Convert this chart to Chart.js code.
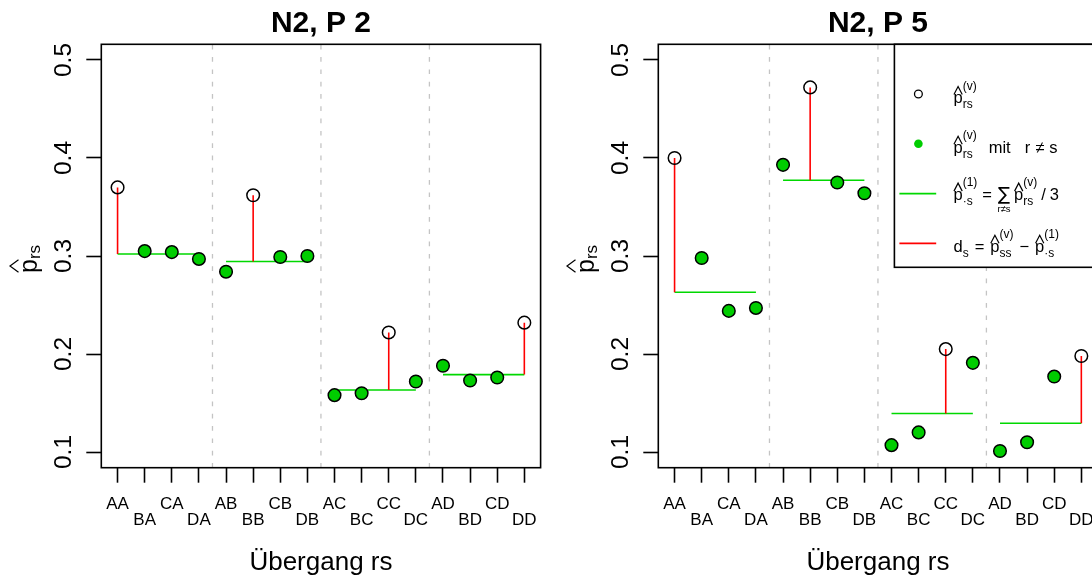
<!DOCTYPE html>
<html lang="de">
<head>
<meta charset="UTF-8">
<title>N2 Übergänge</title>
<script src="https://cdn.jsdelivr.net/npm/chart.js"></script>
<style>
  html, body { margin:0; padding:0; background:#fff; }
  body { width:1092px; height:583px; overflow:hidden; position:relative; }
  canvas { position:absolute; top:0; }
  #c1 { left:0; }
  #c2 { left:557px; }
</style>
</head>
<body>
<canvas id="c1" width="557" height="583"></canvas>
<canvas id="c2" width="557" height="583"></canvas>
<script>
// transitions r -> s, grouped by target state s
const labels = ['AA','BA','CA','DA','AB','BB','CB','DB','AC','BC','CC','DC','AD','BD','CD','DD'];
const states = ['A','B','C','D'];
// estimated transition probabilities, panel "N2, P 2"
const p2 = [0.370,0.305,0.304,0.297, 0.284,0.362,0.299,0.300, 0.158,0.160,0.222,0.172, 0.188,0.173,0.176,0.232];
// panel "N2, P 5"
const p5 = [0.400,0.298,0.244,0.247, 0.393,0.472,0.375,0.364, 0.107,0.120,0.205,0.191, 0.101,0.110,0.177,0.198];
const yTicks = [0.1, 0.2, 0.3, 0.4, 0.5];
const yLim = [0.1, 0.5];

// R style axis extension (4%)
const yPad = (yLim[1] - yLim[0]) * 0.04;
const xPad = (labels.length - 1) * 0.04;

const FONT = '"Liberation Sans", Arial, Helvetica, sans-serif';
const GREEN_PT = '#00CD00';
const GREEN_LN = '#00D800';

function build(values) {
  const diag = [], off = [], means = [], dev = [], sep = [];
  states.forEach((s, g) => {
    const idx = labels.map((l, i) => i).filter(i => labels[i][1] === s);
    const d = idx.find(i => labels[i][0] === s);
    const others = idx.filter(i => i !== d);
    const m = others.reduce((a, i) => a + values[i], 0) / others.length;
    idx.forEach(i => (i === d ? diag : off).push({ x: i, y: values[i] }));
    means.push({ x: idx[0], y: m }, { x: idx[idx.length - 1], y: m }, { x: idx[0], y: null });
    dev.push({ x: d, y: m }, { x: d, y: values[d] }, { x: d, y: null });
    if (g > 0) {
      sep.push({ x: idx[0] - 0.5, y: yLim[0] - yPad }, { x: idx[0] - 0.5, y: yLim[1] + yPad },
               { x: idx[0] - 0.5, y: null });
    }
  });
  return [
    { type: 'scatter', data: diag, order: 0, pointRadius: 6.3, pointBorderWidth: 1.5,
      pointBorderColor: '#000', pointBackgroundColor: 'rgba(0,0,0,0)' },
    { type: 'scatter', data: off, order: 1, pointRadius: 6.3, pointBorderWidth: 1.5,
      pointBorderColor: '#000', pointBackgroundColor: GREEN_PT },
    { type: 'line', data: dev, order: 2, borderColor: '#FF0000', borderWidth: 1.6,
      pointRadius: 0, tension: 0, spanGaps: false },
    { type: 'line', data: means, order: 3, borderColor: GREEN_LN, borderWidth: 1.6,
      pointRadius: 0, tension: 0, spanGaps: false },
    { type: 'line', data: sep, order: 4, borderColor: '#C4C4C4', borderWidth: 1.3,
      borderDash: [4.7, 7.6], pointRadius: 0, tension: 0, spanGaps: false }
  ];
}

function hat(ctx, x, w, base, lo, hi) {
  ctx.save();
  ctx.lineWidth = 1.2;
  ctx.strokeStyle = '#000';
  ctx.beginPath();
  ctx.moveTo(x + w * 0.05, base - lo);
  ctx.lineTo(x + w / 2, base - hi);
  ctx.lineTo(x + w * 0.95, base - lo);
  ctx.stroke();
  ctx.restore();
}

// tiny plotmath-like text runner
function drawMath(ctx, x, base, parts) {
  ctx.textAlign = 'left';
  ctx.textBaseline = 'alphabetic';
  let lastX = x, lastW = 0;
  for (const p of parts) {
    x += p.gap || 0;
    ctx.font = p.size + 'px ' + (p.font || FONT);
    if (p.t !== undefined) {
      const w = ctx.measureText(p.t).width;
      ctx.fillText(p.t, x, base + (p.dy || 0));
      if (p.hat) hat(ctx, x, w, base, p.hat[0], p.hat[1]);
      lastX = x; lastW = w;
      x += w;
    } else if (p.under !== undefined) {
      const w = ctx.measureText(p.under).width;
      ctx.fillText(p.under, lastX + lastW / 2 - w / 2, base + p.dy);
    } else {
      let w = 0;
      if (p.sub) { ctx.fillText(p.sub, x, base + p.subDy); w = Math.max(w, ctx.measureText(p.sub).width); }
      if (p.sup) { ctx.fillText(p.sup, x, base - p.supDy); w = Math.max(w, ctx.measureText(p.sup).width); }
      x += w;
    }
  }
  return x;
}

const P = (gap) => ({ t: 'p', size: 16.5, gap: gap || 0, hat: [8.5, 16.5] });
const S = (sub, sup) => ({ size: 12, sub, sup, subDy: 5, supDy: 13.5 });

const legendRows = [
  { kind: 'open',  parts: [P(), S('rs', '(v)')], dy: 9 },
  { kind: 'dot',   parts: [P(), S('rs', '(v)'), { t: 'mit', size: 16.5, gap: 12 }, { t: 'r', size: 16.5, gap: 14 },
                           { t: '≠', size: 16.5, gap: 5 }, { t: 's', size: 16.5, gap: 5 }], dy: 9 },
  { kind: 'green', parts: [P(), S('·s', '(1)'), { t: '=', size: 16.5, gap: 5 },
                           { t: '∑', size: 18, gap: 6, font: '"DejaVu Sans", sans-serif' },
                           { under: 'r≠s', size: 9.5, dy: 12.5 }, P(4), S('rs', '(v)'),
                           { t: '/', size: 16.5, gap: 4 }, { t: '3', size: 16.5, gap: 4 }], dy: 6 },
  { kind: 'red',   parts: [{ t: 'd', size: 16.5 }, { size: 12, sub: 's', subDy: 5 }, { t: '=', size: 16.5, gap: 6 },
                           P(6), S('ss', '(v)'), { t: '−', size: 16.5, gap: 6 }, P(6), S('·s', '(1)')], dy: 8.4 }
];

const decor = {
  id: 'decor',
  afterDraw(chart, args, opts) {
    const ctx = chart.ctx;
    const a = chart.chartArea;
    const xs = chart.scales.x, ys = chart.scales.y;
    const cx = (a.left + a.right) / 2;
    ctx.save();
    ctx.fillStyle = '#000';
    ctx.strokeStyle = '#000';

    // frame
    ctx.lineWidth = 1.6;
    ctx.strokeRect(a.left, a.top, a.right - a.left, a.bottom - a.top);

    // title
    ctx.font = 'bold 30px ' + FONT;
    ctx.textAlign = 'center';
    ctx.textBaseline = 'alphabetic';
    ctx.fillText(opts.title, cx, 31.7);

    // x tick labels, staggered in two rows
    ctx.font = '17px ' + FONT;
    labels.forEach((l, i) => {
      ctx.fillText(l, xs.getPixelForValue(i), i % 2 === 0 ? 509.3 : 525);
    });

    // x axis title
    ctx.font = '26px ' + FONT;
    ctx.fillText('Übergang rs', cx, 570);

    // y tick labels (rotated like R's las = 0)
    ctx.font = '24.5px ' + FONT;
    yTicks.forEach(v => {
      ctx.save();
      ctx.translate(71.3, ys.getPixelForValue(v));
      ctx.rotate(-Math.PI / 2);
      ctx.textAlign = 'center';
      ctx.fillText(v.toFixed(1), 0, 0);
      ctx.restore();
    });

    // y axis title: p-hat with subscript rs
    ctx.save();
    ctx.translate(37, (a.top + a.bottom) / 2 + 3);
    ctx.rotate(-Math.PI / 2);
    drawMath(ctx, -14, 0, [{ t: 'p', size: 25, hat: [18.5, 27] }, { size: 17, sub: 'rs', subDy: 3 }]);
    ctx.restore();

    // legend in the top right corner
    if (opts.legend) {
      const L = a.right - 203.2, T = a.top, H = 223;
      ctx.fillStyle = '#fff';
      ctx.fillRect(L, T, a.right - L, H);
      ctx.lineWidth = 1.6;
      ctx.strokeRect(L, T, a.right - L, H);
      ctx.fillStyle = '#000';
      legendRows.forEach((row, k) => {
        const y0 = T + 49.7 + k * 49.8;
        if (row.kind === 'open') {
          ctx.lineWidth = 1.3;
          ctx.beginPath(); ctx.arc(L + 24, y0, 3.9, 0, Math.PI * 2); ctx.stroke();
        } else if (row.kind === 'dot') {
          ctx.fillStyle = GREEN_PT;
          ctx.beginPath(); ctx.arc(L + 24, y0, 4.3, 0, Math.PI * 2); ctx.fill();
          ctx.fillStyle = '#000';
        } else {
          ctx.strokeStyle = row.kind === 'green' ? GREEN_LN : '#FF0000';
          ctx.lineWidth = 1.6;
          ctx.beginPath(); ctx.moveTo(L + 5, y0); ctx.lineTo(L + 41.8, y0); ctx.stroke();
          ctx.strokeStyle = '#000';
        }
        drawMath(ctx, L + 59.1, y0 + row.dy, row.parts);
      });
    }
    ctx.restore();
  }
};

function makeChart(id, values, title, legend) {
  return new Chart(document.getElementById(id), {
    type: 'scatter',
    data: { datasets: build(values) },
    options: {
      responsive: false,
      maintainAspectRatio: false,
      devicePixelRatio: 1,
      animation: false,
      events: [],
      layout: { padding: { top: 44.3, right: 16.4, bottom: 0, left: 0 } },
      scales: {
        x: {
          type: 'linear',
          min: -xPad,
          max: labels.length - 1 + xPad,
          afterBuildTicks: s => { s.ticks = labels.map((l, i) => ({ value: i })); },
          afterFit: s => { s.height = 583 - 467.7; },
          ticks: { display: false },
          border: { display: false },
          grid: { drawOnChartArea: false, drawTicks: true, tickLength: 15, tickWidth: 1.6, tickColor: '#000' }
        },
        y: {
          type: 'linear',
          min: yLim[0] - yPad,
          max: yLim[1] + yPad,
          afterBuildTicks: s => { s.ticks = yTicks.map(v => ({ value: v })); },
          afterFit: s => { s.width = 101.3; },
          ticks: { display: false },
          border: { display: false },
          grid: { drawOnChartArea: false, drawTicks: true, tickLength: 15, tickWidth: 1.6, tickColor: '#000' }
        }
      },
      plugins: {
        legend: { display: false },
        tooltip: { enabled: false },
        decor: { title, legend }
      }
    },
    plugins: [decor]
  });
}

makeChart('c1', p2, 'N2, P 2', false);
makeChart('c2', p5, 'N2, P 5', true);
</script>
</body>
</html>
